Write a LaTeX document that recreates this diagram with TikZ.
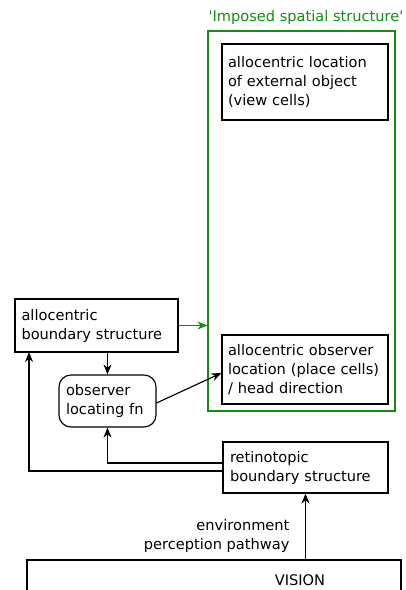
\documentclass[tikz,border=0pt]{standalone}
\usepackage{fontspec}
\setmainfont{DejaVu Sans}
\usetikzlibrary{arrows.meta}
\definecolor{grn}{RGB}{20,140,20}
\begin{document}
\begin{tikzpicture}[x=1pt,y=-1pt,
  line width=1.15pt,
  font=\fontsize{14.6}{19}\selectfont,
  box/.style={draw, align=left, inner xsep=0pt, inner ysep=0pt},
  arr/.style={-{Stealth[length=10pt,width=8pt]}},
]
\useasboundingbox (0,0) rectangle (406,590);
\begin{scope}
\clip (0,0) rectangle (406,590);
% container for the spatial structure
\node[draw=grn, minimum width=187pt, minimum height=380pt] (spatial) at (301.5,221) {};
\node[text=grn, anchor=south, inner xsep=0pt] (spattitle) at (306,28) {\textquotesingle Imposed spatial structure\textquotesingle};
% text widths leave about 7pt clear at each side of every box
\node[box, minimum width=166pt, minimum height=76pt, text width=154pt] (view) at (305,82)
  {allocentric location\\of external object\\(view cells)};
\node[box, minimum width=166pt, minimum height=69pt, text width=154pt] (place) at (305,369.5)
  {allocentric observer\\location (place cells)\\/ head direction};
\node[box, minimum width=163pt, minimum height=53pt, text width=150pt] (bnd) at (96.5,325.5)
  {allocentric\\boundary structure};
\node[box, rounded corners=12pt, minimum width=97pt, minimum height=52pt, text width=83pt] (loc) at (107.5,401)
  {observer\\locating fn};
\node[box, minimum width=165pt, minimum height=51pt, text width=151pt] (ret) at (305.5,467.5)
  {retinotopic\\boundary structure};
\node[draw, minimum width=374pt, minimum height=60pt] (vision) at (214,590) {};
\node (visiontext) at (300,580) {VISION};
\node[align=right, anchor=east, inner xsep=0pt] (pathway) at (290,536) {environment\\perception pathway};
% connectors
\draw[arr, grn] (bnd.east) -- (bnd.east -| spatial.west);
\draw[arr] (bnd.south -| loc.north) -- (loc.north);
\draw[arr] (loc.east |- 0,403) -- (place.west |- 0,373);
\draw[arr] (ret.west |- 0,463) -- (loc.south |- 0,463) -- (loc.south);
\draw[arr] (ret.west |- 0,471) -- (29,471) -- (29,352);
\draw[arr] (vision.north -| ret.south) -- (ret.south);
\end{scope}
\end{tikzpicture}
\end{document}
